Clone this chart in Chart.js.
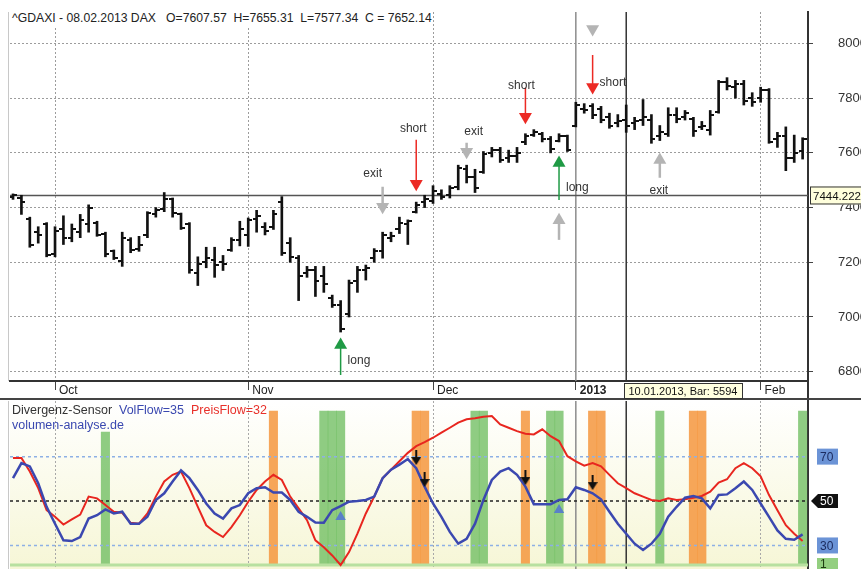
<!DOCTYPE html>
<html>
<head>
<meta charset="utf-8">
<script src="https://cdn.jsdelivr.net/npm/chart.js@4.4.1/dist/chart.umd.min.js"></script>
<style>
  html, body { margin: 0; padding: 0; background: #fff; }
  #wrap { position: relative; width: 861px; height: 569px; overflow: hidden; font-family: "Liberation Sans", Arial, sans-serif; }
  canvas { position: absolute; left: 0; }
  #priceCanvas { top: 0; }
  #oscCanvas { top: 400px; }
  .txt { position: absolute; white-space: pre; font-size: 12px; line-height: 14px; }
</style>
</head>
<body>
<div id="wrap">
  <canvas id="priceCanvas" width="861" height="400"></canvas>
  <canvas id="oscCanvas" width="861" height="169"></canvas>
  <div class="txt" style="left:11px;top:10px;padding:1px 1px 3px 1px;background:#fff;color:#222;font-size:12.2px">^GDAXI - 08.02.2013 DAX   O=7607.57  H=7655.31  L=7577.34  C = 7652.14</div>
  <div class="txt" style="left:12px;top:403px;font-size:12.5px"><span style="color:#333">Divergenz-Sensor</span>  <span style="color:#3a48b0">VolFlow=35</span>  <span style="color:#e8302a">PreisFlow=32</span></div>
  <div class="txt" style="left:12px;top:418px;color:#3a48b0;font-size:12.5px">volumen-analyse.de</div>
</div>
<script>
// --- Price bars (daily OHLC), index 0 = 24.09.2012 ... 94 = 08.02.2013 ---
const opens = [7440, 7435, 7360, 7310, 7340, 7230, 7320, 7290, 7310, 7340,
    7345, 7305, 7240, 7205, 7280, 7250, 7300, 7375, 7395, 7430,
    7375, 7340, 7160, 7200, 7210, 7200, 7245, 7280, 7300, 7360,
    7330, 7330, 7420, 7270, 7215, 7160, 7170, 7150, 7070, 7045,
    7010, 7130, 7170, 7215, 7240, 7290, 7320, 7340, 7385, 7420,
    7425, 7450, 7445, 7475, 7540, 7510, 7530, 7600, 7610, 7580,
    7590, 7640, 7665, 7670, 7650, 7645, 7660, 7700, 7760, 7770,
    7760, 7730, 7710, 7720, 7710, 7720, 7720, 7660, 7670, 7740,
    7730, 7725, 7695, 7685, 7750, 7860, 7840, 7850, 7800, 7800,
    7830, 7650, 7660, 7580, 7607.57];
const highs = [7450, 7445, 7365, 7330, 7345, 7330, 7370, 7340, 7375, 7410,
    7350, 7310, 7245, 7310, 7290, 7295, 7385, 7400, 7455, 7435,
    7380, 7345, 7220, 7255, 7255, 7225, 7290, 7350, 7362, 7390,
    7345, 7390, 7440, 7290, 7225, 7185, 7185, 7185, 7080, 7060,
    7135, 7185, 7190, 7250, 7310, 7310, 7365, 7355, 7420, 7445,
    7480, 7465, 7480, 7555, 7555, 7540, 7605, 7620, 7620, 7610,
    7620, 7670, 7685, 7675, 7660, 7670, 7665, 7785, 7780, 7780,
    7770, 7745, 7740, 7775, 7730, 7795, 7740, 7700, 7765, 7765,
    7755, 7730, 7715, 7755, 7865, 7875, 7865, 7865, 7820, 7840,
    7835, 7675, 7695, 7665, 7655.31];
const lows = [7430, 7375, 7255, 7270, 7220, 7220, 7265, 7275, 7290, 7310,
    7295, 7220, 7210, 7185, 7235, 7240, 7290, 7365, 7385, 7365,
    7320, 7160, 7115, 7180, 7145, 7170, 7240, 7260, 7258, 7310,
    7300, 7320, 7225, 7200, 7060, 7145, 7075, 7090, 7035, 6945,
    7000, 7090, 7135, 7200, 7215, 7275, 7305, 7265, 7380, 7400,
    7415, 7430, 7435, 7465, 7490, 7455, 7525, 7585, 7565, 7565,
    7565, 7630, 7660, 7640, 7600, 7640, 7605, 7695, 7745, 7725,
    7710, 7690, 7695, 7675, 7685, 7700, 7635, 7645, 7660, 7710,
    7720, 7660, 7685, 7665, 7745, 7830, 7800, 7775, 7770, 7785,
    7635, 7620, 7535, 7565, 7577.34];
const closes = [7445, 7420, 7265, 7300, 7225, 7315, 7290, 7320, 7355, 7400,
    7300, 7230, 7215, 7290, 7245, 7265, 7380, 7390, 7430, 7380,
    7325, 7170, 7195, 7215, 7190, 7195, 7280, 7320, 7355, 7370,
    7315, 7375, 7235, 7220, 7150, 7170, 7130, 7120, 7045, 6955,
    7125, 7170, 7180, 7240, 7300, 7295, 7345, 7350, 7410, 7430,
    7460, 7440, 7470, 7545, 7510, 7470, 7595, 7610, 7575, 7590,
    7600, 7660, 7675, 7650, 7615, 7660, 7610, 7775, 7755, 7740,
    7720, 7700, 7715, 7700, 7715, 7730, 7650, 7675, 7740, 7725,
    7745, 7680, 7700, 7740, 7860, 7845, 7850, 7790, 7785, 7830,
    7640, 7660, 7580, 7600, 7652.14];

// --- time axis ---
const monthIdx = [5, 28, 50, 67, 89];
const monthLabels = ['Oct', 'Nov', 'Dec', '2013', 'Feb'];
const yearIdx = 67;
const cursorIdx = 73;
const cursorPrice = 7444.222;
const cursorText = '10.01.2013, Bar: 5594';
const priceTicks = [6800, 7000, 7200, 7400, 7600, 7800, 8000];

// --- trade signals (arrow tail / head price) ---
const sigIdx = [39, 44, 48, 54, 61, 65, 65, 69, 69, 77];
const sigTail = [6788, 7476, 7648, 7637, 7838, 7428, 7282, 8053, 7958, 7509];
const sigHead = [6898, 7403, 7487, 7604, 7732, 7563, 7354, 8053, 7841, 7574];
const sigKind = ['long', 'exit', 'short', 'exit', 'short', 'long', 'exit', 'exit', 'short', 'exit'];
const noteIdx = [39, 44, 48, 54, 61, 65, 69, 77];
const noteText = ['long', 'exit', 'short', 'exit', 'short', 'long', 'short', 'exit'];
const notePrice = [6840, 7523, 7688, 7677, 7845, 7474, 7858, 7461];

// --- Divergenz-Sensor ---
const volFlow = [60.3, 67.1, 65.6, 58, 47.4, 39.8, 32.3, 32, 33.8, 42.1,
    43.6, 46.2, 44.4, 45.2, 39.8, 39.8, 42.9, 50.5, 53.5, 58.8,
    63.8, 60.3, 55, 48.9, 44.4, 42.1, 46.7, 48.2, 53.5, 55.8,
    56.2, 53.8, 53.8, 50.5, 45.2, 42.9, 40.3, 40.2, 45.9, 47.7,
    49.7, 50, 50.5, 52, 60.3, 64.1, 66.4, 68.9, 64.8, 56.5,
    48.9, 42.9, 36.1, 30.8, 33, 39.8, 50.5, 59.5, 63.3, 64.8,
    61.8, 56.5, 48.6, 48.6, 48.6, 50.5, 50.8, 56.2, 55, 53.5,
    50.8, 45.2, 39.8, 35.3, 30.8, 28, 30.8, 35.3, 42.9, 47.4,
    51.5, 52.3, 51.2, 46.7, 52.7, 53, 55.8, 58.8, 55, 48.9,
    42.9, 36.8, 33, 32.6, 35];
const preisFlow = [69.4, 69.4, 63.3, 55.8, 45.9, 42.9, 39.4, 41.7, 43.9, 52,
    51.2, 48.2, 45.2, 44.7, 40.2, 39.8, 44.4, 52, 58.8, 61.8,
    63.3, 55.8, 47.4, 39.1, 36.1, 33.8, 38.3, 43.6, 49.7, 55,
    58.8, 61.8, 59.5, 52, 46.7, 41.4, 32.3, 29.2, 25.5, 21.2,
    27, 35.3, 44.4, 52, 60.3, 64.1, 67.9, 71.7, 74.7, 76.5,
    78.5, 80.8, 83, 85.3, 86.8, 87.3, 88, 88.3, 84.5, 83,
    81.5, 80.3, 80, 82.3, 79.2, 77, 70.2, 67.9, 65.9, 67.1,
    65.6, 61.8, 58, 55.8, 53.5, 52, 50.5, 50, 51.2, 50.5,
    50.8, 51.5, 52.3, 54.2, 58.3, 59.8, 64.8, 67.1, 64.8, 61.1,
    52.7, 45.9, 39.1, 35.3, 32];
const levels = [70, 50, 30];
const baseLevel = 21.2;
const greenIdx = [11, 37, 38, 39, 55, 56, 64, 65, 77, 94];
const greenTop = [81, 90.5, 90.5, 90.5, 90.5, 90.5, 90.5, 90.5, 90.5, 90.5];
const orangeIdx = [31, 48, 49, 61, 69, 70, 81, 82];
const orangeTop = 90.5;
const divIdx = [48, 49, 61, 69];
const divVal = [69.6, 59.7, 60.6, 58.3];
const triIdx = [39, 65];
const triVal = [42.8, 46];

const FONT = '"Liberation Sans", Arial, sans-serif';
const X_MIN = -0.36, X_MAX = 94.64;
const P_MIN = 6766, P_MAX = 8115;
const O_MIN = 19.4, O_MAX = 95.05;
const kindColor = { long: '#1f9a45', short: '#ec2a24', exit: '#b4b4b4' };

function tickImg(left) {
    const c = document.createElement('canvas');
    c.width = 8; c.height = 2;
    const g = c.getContext('2d');
    g.fillStyle = '#111';
    g.fillRect(left ? 0 : 4, 0, 4, 2);
    return c;
}

function downArrowImg() {
    const c = document.createElement('canvas');
    c.width = 10; c.height = 15;
    const g = c.getContext('2d');
    g.fillStyle = '#111';
    g.fillRect(4, 0, 2, 8);
    g.beginPath();
    g.moveTo(0, 7); g.lineTo(10, 7); g.lineTo(5, 15);
    g.closePath();
    g.fill();
    return c;
}

function vLine(x, lo, hi, color, width) {
    return { type: 'line', data: [{ x: x, y: lo }, { x: x, y: hi }], borderColor: color,
        borderWidth: width, pointRadius: 0, order: 4 };
}

// no extra label padding around the plot area
function noPad(s) {
    s.paddingTop = 0; s.paddingBottom = 0; s.paddingLeft = 0; s.paddingRight = 0;
}

// --- price pane ---
const priceNotes = {
    id: 'priceNotes',
    afterDraw(chart) {
        const { ctx, chartArea: a, scales: { x, y } } = chart;
        ctx.save();
        ctx.font = '12px ' + FONT;
        ctx.fillStyle = '#333';
        ctx.textBaseline = 'middle';
        const dx = [7, -10, -3, 7, -4, 7, 7, -1];
        const al = ['left', 'center', 'center', 'center', 'center', 'left', 'left', 'center'];
        noteIdx.forEach((i, k) => {
            ctx.textAlign = al[k];
            ctx.fillText(noteText[k], x.getPixelForValue(i) + dx[k], y.getPixelForValue(notePrice[k]));
        });

        // left edge + label row borders
        ctx.fillStyle = '#c8c8c8';
        ctx.fillRect(8, a.top, 1, a.bottom - a.top);
        ctx.fillStyle = '#333';
        ctx.fillRect(a.right - 1, a.bottom, 2, chart.height - a.bottom);
        ctx.fillStyle = '#444';
        ctx.fillRect(0, chart.height - 2, chart.width, 2);

        // crosshair value box
        const cy = y.getPixelForValue(cursorPrice);
        ctx.fillStyle = '#ffffdc';
        ctx.fillRect(a.right + 2, cy - 9, 60, 18);
        ctx.strokeStyle = '#333';
        ctx.lineWidth = 1;
        ctx.strokeRect(a.right + 2.5, cy - 8.5, 60, 17);
        ctx.fillStyle = '#111';
        ctx.textAlign = 'left';
        ctx.font = '11.5px ' + FONT;
        ctx.fillText(cursorPrice.toFixed(3), a.right + 5, cy + 1);

        // cursor bar box on the time axis
        const cx = Math.round(x.getPixelForValue(cursorIdx)) - 1.5;
        ctx.fillStyle = '#ffffe0';
        ctx.fillRect(cx, a.bottom + 2, 118, 15);
        ctx.strokeRect(cx, a.bottom + 2.5, 118, 15);
        ctx.fillStyle = '#111';
        ctx.font = '11px ' + FONT;
        ctx.fillText(cursorText, cx + 4, a.bottom + 10.5);
        ctx.restore();
    }
};

const signalSets = sigIdx.map((i, k) => {
    const col = kindColor[sigKind[k]];
    return {
        type: 'line',
        data: [{ x: i, y: sigTail[k] }, { x: i, y: sigHead[k] }],
        borderColor: col,
        borderWidth: sigKind[k] === 'exit' ? 2.5 : 1.5,
        pointRadius: [0, 7.5],
        pointStyle: 'triangle',
        pointRotation: sigHead[k] > sigTail[k] ? 0 : 180,
        pointBackgroundColor: col,
        pointBorderWidth: 0,
        order: 0
    };
});

new Chart(document.getElementById('priceCanvas'), {
    type: 'bar',
    data: {
        datasets: [
            { data: highs.map((h, i) => ({ x: i, y: [lows[i], h] })), backgroundColor: '#111',
              barThickness: 2, order: 2 },
            { type: 'line', data: opens.map((o, i) => ({ x: i, y: o })), showLine: false,
              pointStyle: tickImg(true), pointRadius: 3, order: 2 },
            { type: 'line', data: closes.map((c, i) => ({ x: i, y: c })), showLine: false,
              pointStyle: tickImg(false), pointRadius: 3, order: 2 },
            { type: 'line', data: [{ x: X_MIN, y: cursorPrice }, { x: X_MAX, y: cursorPrice }],
              borderColor: '#555', borderWidth: 1.5, pointRadius: 0, order: 3 },
            vLine(yearIdx, P_MIN, P_MAX, '#8c8c8c', 1.5),
            vLine(cursorIdx, P_MIN, P_MAX, '#333', 1.5),
            ...signalSets
        ]
    },
    options: {
        responsive: false,
        animation: false,
        events: [],
        layout: { autoPadding: false, padding: { left: 10, top: 12, right: 0, bottom: 0 } },
        plugins: { legend: { display: false }, tooltip: { enabled: false } },
        scales: {
            x: {
                type: 'linear', min: X_MIN, max: X_MAX, offset: false,
                grid: {
                    offset: false,
                    color: c => (c.tick && c.tick.value === yearIdx) ? 'rgba(0,0,0,0)' : '#9c9c9c',
                    tickColor: '#444', tickLength: 9
                },
                border: { color: '#333', width: 2, dash: [2, 2] },
                ticks: {
                    align: 'start', labelOffset: 4, padding: -7, maxRotation: 0, autoSkip: false,
                    color: '#222',
                    font: c => ({ family: FONT, size: 12, weight: (c.tick && c.tick.value === yearIdx) ? 'bold' : 'normal' }),
                    callback: v => monthLabels[monthIdx.indexOf(v)]
                },
                afterBuildTicks: s => { s.ticks = monthIdx.map(v => ({ value: v })); },
                afterFit: s => { s.height = 19; noPad(s); }
            },
            y: {
                position: 'right', min: P_MIN, max: P_MAX,
                grid: { color: '#9c9c9c', tickColor: '#444', tickLength: 5 },
                border: { color: '#333', width: 2, dash: [2, 2] },
                ticks: { padding: 25, color: '#333', font: { family: FONT, size: 13 }, callback: v => String(v) },
                afterBuildTicks: s => { s.ticks = priceTicks.map(v => ({ value: v })); },
                afterFit: s => { s.width = 53; noPad(s); }
            }
        }
    },
    plugins: [priceNotes]
});

// --- oscillator pane ---
const oscDecor = {
    id: 'oscDecor',
    beforeDraw(chart) {
        const { ctx, chartArea: a } = chart;
        const g = ctx.createLinearGradient(0, a.top, 0, a.bottom);
        g.addColorStop(0, '#ffffff');
        g.addColorStop(1, '#f6f6d6');
        ctx.save();
        ctx.fillStyle = g;
        ctx.fillRect(a.left, a.top, a.right - a.left, a.bottom - a.top);
        ctx.restore();
    },
    afterDraw(chart) {
        const { ctx, chartArea: a, scales: { y } } = chart;
        ctx.save();
        ctx.fillStyle = '#c8c8c8';
        ctx.fillRect(8, a.top, 1, a.bottom - a.top);
        ctx.font = '12px ' + FONT;
        ctx.textBaseline = 'middle';
        ctx.textAlign = 'left';
        [70, 30].forEach(v => {
            const cy = y.getPixelForValue(v);
            ctx.fillStyle = '#6b93d6';
            ctx.fillRect(817, cy - 8, 21, 16);
            ctx.fillStyle = '#1c2c60';
            ctx.fillText(String(v), 820, cy + 1);
        });
        const my = y.getPixelForValue(50);
        ctx.fillStyle = '#111';
        ctx.beginPath();
        ctx.moveTo(811, my); ctx.lineTo(818, my - 7); ctx.lineTo(838, my - 7);
        ctx.lineTo(838, my + 7); ctx.lineTo(818, my + 7);
        ctx.closePath();
        ctx.fill();
        ctx.fillStyle = '#fff';
        ctx.fillText('50', 820, my + 1);
        const by = y.getPixelForValue(baseLevel);
        ctx.fillStyle = '#93cf80';
        ctx.fillRect(817, by - 7, 21, 14);
        ctx.fillStyle = '#1c3c10';
        ctx.fillText('1', 820, by);
        ctx.restore();
    }
};

const levelSets = levels.map(v => ({
    type: 'line', data: [{ x: X_MIN, y: v }, { x: X_MAX, y: v }],
    borderColor: v === 50 ? '#222' : '#8db0e5', borderWidth: 1.5, borderDash: [3, 3],
    pointRadius: 0, order: 4
}));

new Chart(document.getElementById('oscCanvas'), {
    type: 'bar',
    data: {
        datasets: [
            { data: greenIdx.map((i, k) => ({ x: i, y: [baseLevel, greenTop[k]] })),
              backgroundColor: 'rgba(112,190,98,0.78)', grouped: false,
              barPercentage: 1, categoryPercentage: 1, order: 6 },
            { data: orangeIdx.map(i => ({ x: i, y: [baseLevel, orangeTop] })),
              backgroundColor: 'rgba(244,150,62,0.85)', grouped: false,
              barPercentage: 1, categoryPercentage: 1, order: 6 },
            ...levelSets,
            { type: 'line', data: [{ x: X_MIN, y: baseLevel }, { x: X_MAX, y: baseLevel }],
              borderColor: '#b8e0a0', borderWidth: 3, pointRadius: 0, order: 4 },
            vLine(yearIdx, O_MIN, O_MAX, '#8c8c8c', 1.5),
            vLine(cursorIdx, O_MIN, O_MAX, '#333', 1.5),
            { type: 'line', data: preisFlow.map((v, i) => ({ x: i, y: v })), borderColor: '#e8261f',
              borderWidth: 2, pointRadius: 0, order: 2 },
            { type: 'line', data: volFlow.map((v, i) => ({ x: i, y: v })), borderColor: '#3b48b0',
              borderWidth: 2.5, pointRadius: 0, order: 1 },
            { type: 'line', data: triIdx.map((i, k) => ({ x: i, y: triVal[k] })), showLine: false,
              pointStyle: 'triangle', pointRadius: 6, pointBackgroundColor: '#5a80c8',
              pointBorderWidth: 0, order: 0 },
            { type: 'line', data: divIdx.map((i, k) => ({ x: i, y: divVal[k] })), showLine: false,
              pointStyle: downArrowImg(), pointRadius: 3, order: 0 }
        ]
    },
    options: {
        responsive: false,
        animation: false,
        events: [],
        layout: { autoPadding: false, padding: { left: 10, top: 1, right: 0, bottom: 0 } },
        plugins: { legend: { display: false }, tooltip: { enabled: false } },
        scales: {
            x: {
                type: 'linear', min: X_MIN, max: X_MAX, offset: false,
                grid: { offset: false, color: '#a8a8a8', drawTicks: false },
                border: { display: false, dash: [2, 2] },
                ticks: { display: false },
                afterBuildTicks: s => { s.ticks = monthIdx.filter(v => v !== yearIdx).map(v => ({ value: v })); },
                afterFit: s => { s.height = 0; noPad(s); }
            },
            y: {
                position: 'right', min: O_MIN, max: O_MAX,
                grid: { display: false },
                border: { color: '#333', width: 2 },
                ticks: { display: false },
                afterFit: s => { s.width = 53; noPad(s); }
            }
        }
    },
    plugins: [oscDecor]
});
</script>
</body>
</html>
